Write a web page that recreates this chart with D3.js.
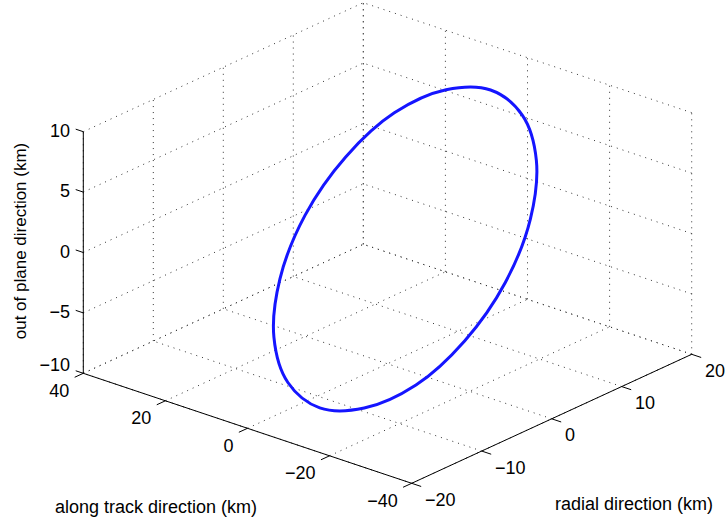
<!DOCTYPE html>
<html>
<head>
<meta charset="utf-8">
<script src="https://cdn.jsdelivr.net/npm/d3@7"></script>
<style>
body{
  margin: 0px;
  background: #fff;
}
text{
  font-family: Arial, "Liberation Sans", Helvetica, sans-serif;
  font-size: 18px;
  fill: #000;
}
</style>
</head>
<body>
<svg id="chart" width="727" height="526"></svg>
<script>

// DATA -------------------------------------------------------------

var radialTicks = [-20, -10, 0, 10, 20];
var alongTicks  = [-40, -20, 0, 20, 40];
var planeTicks  = [-10, -5, 0, 5, 10];

// relative orbit, sampled round one revolution (km)
var orbitRadial = [12.2, 11.3, 8.6, 4.7, 0, -4.7, -8.6, -11.3, -12.2, -11.3, -8.6, -4.7, 0, 4.7, 8.6, 11.3];
var orbitAlong  = [-4.3, 5.0, 13.0, 18.2, 20.1, 18.2, 13.0, 5.0, -4.3, -13.6, -21.6, -26.8, -28.7, -26.8, -21.6, -13.6];
var orbitPlane  = [9.9, 9.1, 7.0, 3.8, 0, -3.8, -7.0, -9.1, -9.9, -9.1, -7.0, -3.8, 0, 3.8, 7.0, 9.1];

// END --------------------------------------------------------------


// 3d box setup (screen position of the front corner and the three box edges)
var origin = [411.7, 483.3];
var ex = [280, -129],
    ey = [-328.4, -110],
    ez = [0, -241.6];

var xs = d3.scaleLinear().domain(d3.extent(radialTicks)).range([0, 1]);
var ys = d3.scaleLinear().domain(d3.extent(alongTicks)).range([0, 1]);
var zs = d3.scaleLinear().domain(d3.extent(planeTicks)).range([0, 1]);

function proj(r, a, p){
  var u = xs(r), v = ys(a), w = zs(p);
  return [origin[0] + u*ex[0] + v*ey[0] + w*ez[0],
          origin[1] + u*ex[1] + v*ey[1] + w*ez[1]];
}
function unit(v){
  var l = Math.sqrt(v[0]*v[0] + v[1]*v[1]);
  return [v[0]/l, v[1]/l];
}

var rMin = radialTicks[0], rMax = radialTicks[radialTicks.length-1];
var aMin = alongTicks[0],  aMax = alongTicks[alongTicks.length-1];
var pMin = planeTicks[0],  pMax = planeTicks[planeTicks.length-1];

var svg = d3.select('#chart');
var line = d3.line();

// grid lines on the floor and the two back walls
var grid = [];
radialTicks.forEach(function(r){
  grid.push([proj(r, aMin, pMin), proj(r, aMax, pMin)]);
  grid.push([proj(r, aMax, pMin), proj(r, aMax, pMax)]);
});
alongTicks.forEach(function(a){
  grid.push([proj(rMin, a, pMin), proj(rMax, a, pMin)]);
  grid.push([proj(rMax, a, pMin), proj(rMax, a, pMax)]);
});
planeTicks.forEach(function(p){
  grid.push([proj(rMin, aMax, p), proj(rMax, aMax, p)]);
  grid.push([proj(rMax, aMin, p), proj(rMax, aMax, p)]);
});

svg.append('g').selectAll('path').data(grid).enter().append('path')
  .attr('d', line)
  .attr('fill', 'none')
  .attr('stroke', '#333')
  .attr('stroke-width', 1)
  .attr('stroke-dasharray', '1,5');

// axis lines
var axes = [
  [proj(rMin, aMin, pMin), proj(rMax, aMin, pMin)],
  [proj(rMin, aMin, pMin), proj(rMin, aMax, pMin)],
  [proj(rMin, aMax, pMin), proj(rMin, aMax, pMax)]
];
svg.append('g').selectAll('path').data(axes).enter().append('path')
  .attr('d', line)
  .attr('fill', 'none')
  .attr('stroke', '#000')
  .attr('stroke-width', 1);

// ticks
var dx = unit(ex), dy = unit(ey);
var ticks = [];
radialTicks.forEach(function(r){
  var p = proj(r, aMin, pMin);
  ticks.push([p, [p[0] - dy[0]*10, p[1] - dy[1]*10]]);
});
alongTicks.forEach(function(a){
  var p = proj(rMin, a, pMin);
  ticks.push([p, [p[0] - dx[0]*9.5, p[1] - dx[1]*9.5]]);
});
planeTicks.forEach(function(z){
  var p = proj(rMin, aMax, z);
  ticks.push([p, [p[0] + dy[0]*8, p[1] + dy[1]*8]]);
});
svg.append('g').selectAll('path').data(ticks).enter().append('path')
  .attr('d', line)
  .attr('stroke', '#000')
  .attr('stroke-width', 1);

function fmt(v){ return v < 0 ? '\u2212' + (-v) : '' + v; }

// tick labels
svg.append('g').selectAll('text').data(radialTicks).enter().append('text')
  .attr('x', function(r){ return proj(r, aMin, pMin)[0] + 13.3; })
  .attr('y', function(r){ return proj(r, aMin, pMin)[1] + 16.5; })
  .attr('dominant-baseline', 'central')
  .attr('text-anchor', 'start')
  .text(fmt);

svg.append('g').selectAll('text').data(alongTicks).enter().append('text')
  .attr('x', function(a){ return proj(rMin, a, pMin)[0] - 14; })
  .attr('y', function(a){ return proj(rMin, a, pMin)[1] + 17.5; })
  .attr('dominant-baseline', 'central')
  .attr('text-anchor', 'end')
  .text(fmt);

svg.append('g').selectAll('text').data(planeTicks).enter().append('text')
  .attr('x', function(z){ return proj(rMin, aMax, z)[0] - 13.3; })
  .attr('y', function(z, i){ return proj(rMin, aMax, z)[1] - (i == 0 ? 8 : 1); })
  .attr('dominant-baseline', 'central')
  .attr('text-anchor', 'end')
  .text(fmt);

// axis titles
svg.append('text')
  .attr('x', 634).attr('y', 510)
  .attr('text-anchor', 'middle')
  .text('radial direction (km)');

svg.append('text')
  .attr('x', 156).attr('y', 513)
  .attr('text-anchor', 'middle')
  .text('along track direction (km)');

svg.append('text')
  .attr('transform', 'translate(26,241) rotate(-90)')
  .attr('text-anchor', 'middle')
  .style('font-size', '17px')
  .text('out of plane direction (km)');

// orbit
var orbit = orbitRadial.map(function(r, i){ return proj(r, orbitAlong[i], orbitPlane[i]); });
svg.append('path')
  .attr('d', d3.line().curve(d3.curveCatmullRomClosed)(orbit))
  .attr('fill', 'none')
  .attr('stroke', '#1515ff')
  .attr('stroke-width', 3);

</script>
</body>
</html>
